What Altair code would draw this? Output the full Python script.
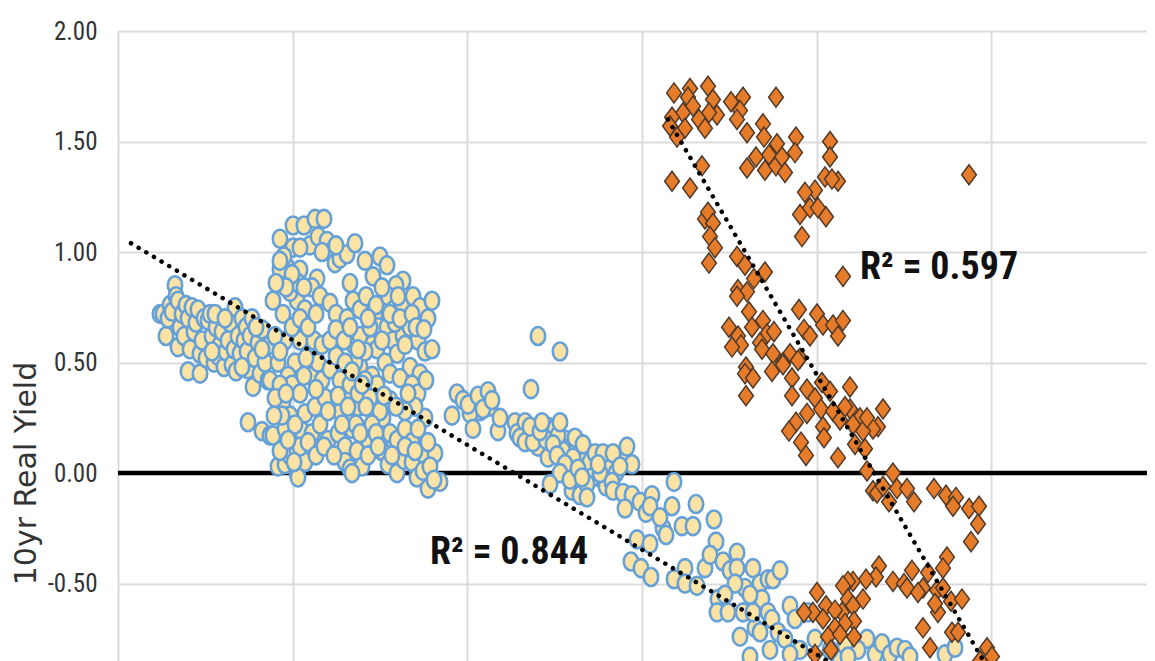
import altair as alt
import pandas as pd

# x is an unlabelled axis in the crop; values are read on an arbitrary scale
blue_left = [(160,.72),(163,.72),(166,.62),(168,.70),(170,.76),(172,.73),(175,.85),(176,.80),(178,.78),(178,.57),(180,.66),(182,.72),(184,.62),
 (186,.76),(188,.46),(188,.70),(190,.56),(192,.75),(194,.64),(196,.68),(198,.74),(200,.45),(200,.54),(202,.60),(204,.70),(206,.52),(208,.69),
 (210,.72),(212,.62),(214,.50),(216,.66),(218,.53),(220,.58),(222,.64),(224,.48),(226,.55),(228,.60),(230,.68),(232,.49),(234,.56),(235,.75),
 (238,.62),(240,.54),(242,.70),(244,.60),(246,.66),(247,.55),(248,.47),(250,.62),(252,.70),(253,.39),(255,.52),(258,.59),(260,.45),(262,.65),(265,.50),(268,.42),(270,.58)]
blue_upper = [(280,1.06),(293,1.12),(304,1.12),(315,1.15),(324,1.15),(293,1.02),(310,1.03),(318,1.07),(327,1.05),(331,1.00),(335,.95),(340,.97),(347,.99),(355,1.04),
 (365,.96),(380,.98),(387,.94),(373,.89),(403,.87),(396,.85),(287,.93),(280,.92),(300,.92),(284,.98),(317,.88),(312,.84),(273,.78),(283,.72),(297,.78),(290,.82),
 (305,.74),(320,.80),(330,.77),(340,.69),(336,.72),(353,.78),(347,.70),(360,.74),(366,.80),(375,.72),(388,.80),(382,.84),(394,.74),(402,.77),(408,.70),(413,.80),
 (420,.75),(432,.78),(428,.70),(367,.63),(372,.58),(378,.66),(387,.66),(393,.60),(377,.56),(397,.54),(403,.62),(410,.66),(418,.60),(425,.55),(432,.56),(410,.48),
 (420,.45),(360,.48),(365,.55),(354,.58),(385,.50),(372,.44),(377,.40),(390,.45),(400,.43),(412,.40),(418,.36),(426,.42),(360,.62),(355,.50),(395,.68),(405,.58)]
blue_lower = [(425,.25),(415,.30),(405,.28),(383,.25),(375,.30),(390,.33),(350,.25),(358,.30),(340,.28),(330,.33),(305,.27),(315,.30),(283,.32),(290,.26),(295,.50),
 (288,.44),(292,.40),(300,.36),(308,.57),(312,.44),(318,.50),(325,.34),(322,.42),(330,.47),(336,.53),(345,.34),(340,.42),(350,.40),(358,.36),(365,.42),(370,.34),
 (380,.28),(248,.23),(262,.19),(270,.17),(273,.17),(285,.20),(302,.19),(295,.22),(312,.18),(320,.22),(328,.15),(338,.18),(345,.12),(352,.20),(365,.15),(372,.22),
 (382,.10),(390,.18),(397,.15),(405,.20),(412,.14),(422,.09),(435,.09),(428,.14),(278,.03),(285,.04),(290,.08),(297,.0),(297,.10),(305,.05),(345,.05),(350,.02),
 (357,.10),(362,.03),(368,.08),(382,.10),(388,.04),(397,.0),(404,.06),(412,.05),(417,-.02),(423,.01),(430,.03),(440,-.04),(428,-.07),(434,-.03),(298,-.02),(352,.0)]
blue_mid = [(538,.62),(560,.55),(531,.38),(457,.36),(463,.33),(468,.31),(452,.26),(473,.20),(478,.35),(488,.37),(483,.29),(492,.33),(498,.19),(500,.25),(515,.23),
 (517,.18),(525,.23),(520,.16),(525,.14),(533,.14),(530,.21),(546,.15),(540,.19),(558,.17),(542,.23),(560,.23),(553,.13),(575,.16),(583,.13),(573,.07),(557,.08),
 (565,.04),(560,.0),(550,-.05),(570,-.03),(578,.02),(587,-.05),(587,-.11),(582,-.02),(600,.0),(595,.09),(603,.09),(598,.04),(612,-.04),(613,.09),(627,.12),(632,.04),
 (620,.03),(613,-.08),(623,-.09),(632,-.10),(625,-.16),(640,-.13),(646,-.18),(652,-.10),(650,-.15),(674,-.04),(672,-.15),(696,-.14),(682,-.24),(693,-.24),(714,-.21),
 (663,-.25),(660,-.20),(666,-.28),(637,-.30),(650,-.32),(631,-.40),(641,-.43),(651,-.47),(674,-.48),(685,-.43),(685,-.50),(697,-.51)]
blue_tail = [(705,-.43),(716,-.31),(710,-.37),(723,-.40),(730,-.44),(737,-.36),(737,-.43),(745,-.52),(718,-.57),(717,-.63),(728,-.63),(743,-.63),(755,-.70),(740,-.74),
 (750,-.83),(753,-.43),(760,-.50),(768,-.48),(773,-.48),(780,-.44),(762,-.57),(750,-.55),(735,-.50),(725,-.55),(753,-.63),(768,-.63),(772,-.66),(760,-.72),(778,-.72),
 (790,-.60),(795,-.66),(785,-.75),(800,-.80),(808,-.63),(815,-.75),(770,-.80),(790,-.82),(867,-.75),(858,-.80),(875,-.82),(882,-.77),(890,-.82),(897,-.79),(905,-.80),
 (910,-.83),(945,-.82),(955,-.79),(840,-.84),(830,-.80),(845,-.78),(848,-.83)]
blue_extra = [(300,.60),(306,.52),(314,.60),(322,.58),(330,.60),(345,.50),(352,.46),(362,.40),(285,.60),(292,.66),(300,.70),(308,.66),(316,.72),(278,.50),(270,.42),(280,.40),
 (275,.34),(286,.36),(304,.44),(316,.38),(328,.28),(338,.35),(348,.30),(356,.22),(366,.30),(376,.18),(384,.35),(396,.30),(408,.36),(418,.20),(300,.12),(308,.14),(316,.08),
 (324,.12),(334,.08),(342,.22),(360,.18),(378,.12),(392,.08),(405,.12),(415,.10),(280,.10),(288,.15),(294,.05),(282,.26),(274,.26),(336,.65),(344,.60),(350,.66),(358,.56),
 (370,.66),(382,.60),(390,.72),(400,.70),(412,.72),(416,.66),(424,.65),(376,.76),(398,.80),(368,.70),(350,.86),(298,.86),(292,.90),(304,.84),(286,.84),(276,.86),(300,1.02),
 (336,1.03),(322,1.00),(280,.96),(525,.18),(532,.18),(538,.12),(548,.21),(555,.20),(566,.15),(572,.12),(548,.07),(563,.10),(580,.08),(590,.05),(606,.04),(600,-.02),(606,-.06),
 (616,.0),(625,.05),(572,-.08),(580,-.10),(592,-.02),(480,.28),(470,.27),(490,.30),(215,.72),(225,.70),(212,.55),(236,.46),(256,.66),(242,.48),(262,.56),(275,.62),(280,.55)]
orange_top = [(674,1.72),(690,1.74),(708,1.75),(688,1.70),(713,1.69),(693,1.66),(731,1.68),(743,1.70),(776,1.70),(740,1.64),(737,1.60),(683,1.63),(717,1.62),(709,1.63),
 (699,1.60),(672,1.61),(670,1.57),(685,1.56),(677,1.52),(705,1.56),(747,1.54),(763,1.58),(764,1.52),(777,1.49),(796,1.52),(795,1.45),(769,1.44),(756,1.43),(747,1.38),
 (765,1.37),(776,1.39),(782,1.43),(785,1.36),(830,1.50),(830,1.43),(825,1.34),(838,1.32),(832,1.33),(815,1.28),(805,1.27),(800,1.17),(810,1.20),(818,1.20),(826,1.16),
 (802,1.07),(969,1.35),(702,1.39),(672,1.32),(690,1.29),(705,1.15),(708,1.18),(713,1.13),(710,1.07),(715,1.02),(709,.95)]
orange_mid = [(737,.98),(745,.94),(765,.91),(754,.88),(843,.89),(738,.83),(747,.82),(737,.80),(749,.73),(729,.66),(738,.62),(741,.58),(732,.57),(752,.66),(763,.69),(767,.63),
 (774,.64),(760,.59),(762,.56),(773,.54),(799,.74),(817,.72),(823,.67),(833,.67),(843,.69),(838,.62),(804,.65),(810,.62),(790,.54),(800,.52),(783,.50),(746,.48),(772,.46),
 (745,.45),(753,.43),(746,.35),(783,.49),(792,.43),(798,.51),(792,.35),(807,.38),(815,.34),(850,.39),(822,.41),(830,.37),(807,.27),(821,.29),(833,.28),(796,.23),(789,.19),
 (801,.14),(806,.08),(823,.21),(824,.16),(838,.07),(850,.29),(860,.25),(883,.29),(878,.21),(873,.20),(863,.19),(867,.25),(853,.22),(855,.13),(865,.11),(840,.24),(845,.30)]
orange_low = [(867,.01),(893,.0),(873,-.08),(877,-.09),(883,-.06),(889,-.13),(897,-.07),(907,-.07),(914,-.13),(934,-.07),(946,-.10),(956,-.11),(953,-.15),(969,-.16),(979,-.15),
 (978,-.23),(971,-.31),(879,-.42),(876,-.47),(866,-.48),(853,-.49),(848,-.49),(843,-.51),(893,-.49),(904,-.50),(907,-.52),(912,-.44),(947,-.38),(943,-.43),(928,-.45),(923,-.52),
 (918,-.54),(937,-.53),(943,-.52),(951,-.58),(962,-.57),(938,-.63),(935,-.59),(923,-.70),(952,-.72),(958,-.72),(930,-.79),(987,-.79),(992,-.83),(980,-.85),(817,-.54),(813,-.63),
 (804,-.63),(826,-.60),(823,-.66),(848,-.57),(863,-.57),(853,-.60),(842,-.63),(835,-.62),(854,-.67),(845,-.68),(835,-.70),(828,-.74),(840,-.73),(854,-.74),(831,-.80),(815,-.82)]
blue_trend_x = [131, 835]
blue_trend_y = [1.04, -0.87]
orange_trend_x = [668, 990]
orange_trend_y = [1.60, -0.90]
y_ticks = [-0.5, 0, 0.5, 1, 1.5, 2]
x_grid = [293, 467, 642, 817, 991]
labels = ["R² = 0.597", "R² = 0.844"]
label_x = [939, 509]
label_y = [0.93, -0.36]

blue = pd.DataFrame(blue_left + blue_upper + blue_lower + blue_extra + blue_mid + blue_tail, columns=["x", "y"])
orange = pd.DataFrame(orange_top + orange_mid + orange_low, columns=["x", "y"])
LABEL_FONT = "Roboto Condensed, Noto Sans Condensed, Open Sans Condensed, Roboto"
ELLIPSE = "M -0.8 0 A 0.8 1 0 1 1 0.8 0 A 0.8 1 0 1 1 -0.8 0 Z"
TALL_DIAMOND = "M 0 -1 L 0.74 0 L 0 1 L -0.74 0 Z"

xs = alt.Scale(domain=[118, 1147], nice=False, zero=False)
ys = alt.Scale(domain=[-0.85, 2], nice=False, zero=False)
X = alt.X("x:Q", scale=xs, axis=alt.Axis(values=x_grid, labels=False, ticks=False, domain=False, title=None,
                                         grid=True, gridColor="#DCDCDC", gridWidth=2))
Y = alt.Y("y:Q", scale=ys, axis=alt.Axis(values=y_ticks, labelExpr="(datum.value<0?'-':'')+format(abs(datum.value),'.2f')", ticks=False, domain=True, domainColor="#D9D9D9", domainWidth=2,
                                         grid=True, gridColor="#DCDCDC", gridWidth=2, labelFont=LABEL_FONT, labelFontSize=25,
                                         labelColor="#333333", labelPadding=21, title="10yr Real Yield", titleFont="DejaVu Sans",
                                         titleFontSize=30, titleFontWeight="normal", titleColor="#333333", titleX=-77, titleY=473-31))

base_y = alt.Chart(pd.DataFrame({"y": y_ticks, "x": [118]*6})).mark_point(opacity=0).encode(x=X, y=Y)
zero = alt.Chart(pd.DataFrame({"y": [0]})).mark_rule(color="black", strokeWidth=4.5).encode(y=alt.Y("y:Q", scale=ys))
pb = alt.Chart(blue).mark_point(filled=False, shape=ELLIPSE, size=324, fill="#FBE3A6", fillOpacity=1, stroke="#65A0D6", strokeWidth=2.6, clip=True).encode(
    x=alt.X("x:Q", scale=xs), y=alt.Y("y:Q", scale=ys))
po = alt.Chart(orange).mark_point(filled=False, shape=TALL_DIAMOND, size=400, fill="#E67B2A", fillOpacity=1, stroke="#4F3A2A", strokeWidth=1.5, clip=True).encode(
    x=alt.X("x:Q", scale=xs), y=alt.Y("y:Q", scale=ys))
def trend(xv, yv):
    return alt.Chart(pd.DataFrame({"x": xv, "y": yv})).mark_line(color="black", strokeWidth=4.5, strokeCap="round", strokeDash=[0.1, 8.8], clip=True).encode(
        x=alt.X("x:Q", scale=xs), y=alt.Y("y:Q", scale=ys))
txt = alt.Chart(pd.DataFrame({"t": labels, "x": label_x, "y": label_y})).mark_text(font=LABEL_FONT, fontWeight="bold", fontSize=38, color="#111111", baseline="middle").encode(
    x=alt.X("x:Q", scale=xs), y=alt.Y("y:Q", scale=ys), text="t:N")

chart = alt.layer(base_y, zero, pb, po, trend(blue_trend_x, blue_trend_y), trend(orange_trend_x, orange_trend_y), txt).properties(
    width=1029, height=630, autosize=alt.AutoSizeParams(type="none"),
    padding={"left": 110, "top": 23, "right": 0, "bottom": 0}, background="white"
).configure_view(stroke=None)
chart.save("out.html", embed_options={"renderer": "svg", "actions": False})
